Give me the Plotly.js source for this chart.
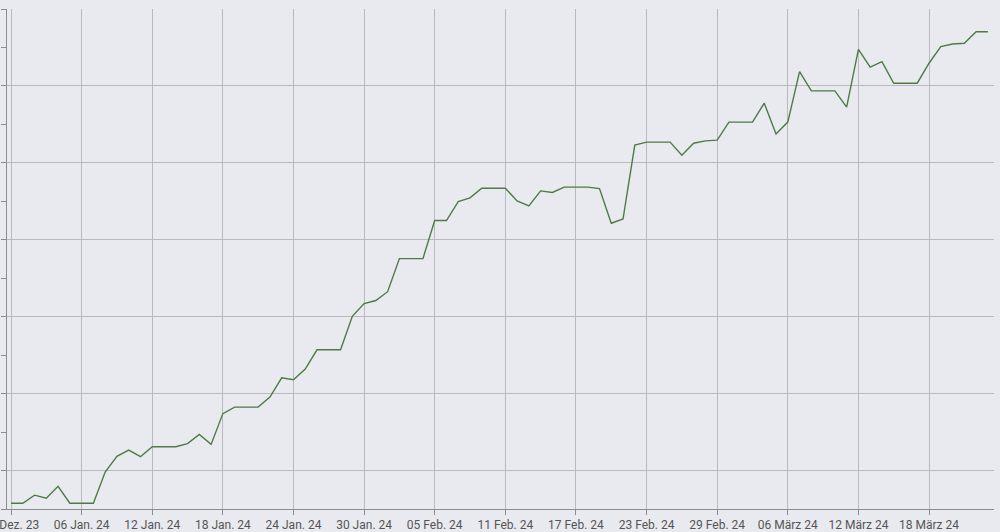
<!DOCTYPE html>
<html>
<head>
<meta charset="utf-8">
<script src="https://cdn.plot.ly/plotly-3.0.1.min.js"></script>
<style>
html,body{margin:0;padding:0;background:#e9eaef;}
#chart{width:1000px;height:532px;}
</style>
</head>
<body>
<div id="chart"></div>
<script>
const dates = [
"2023-12-31",
"2024-01-01","2024-01-02","2024-01-03","2024-01-04","2024-01-05","2024-01-06","2024-01-07","2024-01-08","2024-01-09","2024-01-10",
"2024-01-11","2024-01-12","2024-01-13","2024-01-14","2024-01-15","2024-01-16","2024-01-17","2024-01-18","2024-01-19","2024-01-20",
"2024-01-21","2024-01-22","2024-01-23","2024-01-24","2024-01-25","2024-01-26","2024-01-27","2024-01-28","2024-01-29","2024-01-30","2024-01-31",
"2024-02-01","2024-02-02","2024-02-03","2024-02-04","2024-02-05","2024-02-06","2024-02-07","2024-02-08","2024-02-09","2024-02-10",
"2024-02-11","2024-02-12","2024-02-13","2024-02-14","2024-02-15","2024-02-16","2024-02-17","2024-02-18","2024-02-19","2024-02-20",
"2024-02-21","2024-02-22","2024-02-23","2024-02-24","2024-02-25","2024-02-26","2024-02-27","2024-02-28","2024-02-29",
"2024-03-01","2024-03-02","2024-03-03","2024-03-04","2024-03-05","2024-03-06","2024-03-07","2024-03-08","2024-03-09","2024-03-10",
"2024-03-11","2024-03-12","2024-03-13","2024-03-14","2024-03-15","2024-03-16","2024-03-17","2024-03-18","2024-03-19","2024-03-20",
"2024-03-21","2024-03-22","2024-03-23"
];
const values = [
0.15,
0.15,0.36,0.28,0.59,0.15,0.15,0.15,0.96,1.37,1.53,
1.36,1.62,1.62,1.62,1.70,1.94,1.68,2.48,2.65,2.65,
2.65,2.91,3.41,3.36,3.64,4.14,4.14,4.14,5.01,5.34,5.42,
5.65,6.51,6.51,6.51,7.50,7.50,7.99,8.09,8.34,8.34,
8.34,8.01,7.88,8.27,8.23,8.37,8.37,8.37,8.33,7.43,
7.54,9.46,9.54,9.54,9.54,9.20,9.51,9.57,9.59,
10.06,10.06,10.06,10.55,9.75,10.06,11.37,10.87,10.87,10.87,
10.45,11.95,11.49,11.63,11.07,11.07,11.07,11.59,12.02,12.09,
12.11,12.41,12.41
];
const tickDates = ["2023-12-31","2024-01-06","2024-01-12","2024-01-18","2024-01-24","2024-01-30","2024-02-05","2024-02-11","2024-02-17","2024-02-23","2024-02-29","2024-03-06","2024-03-12","2024-03-18"];
const tickLabels = ["31 Dez. 23","06 Jan. 24","12 Jan. 24","18 Jan. 24","24 Jan. 24","30 Jan. 24","05 Feb. 24","11 Feb. 24","17 Feb. 24","23 Feb. 24","29 Feb. 24","06 März 24","12 März 24","18 März 24"];

const trace = {
  x: dates, y: values, type: 'scatter', mode: 'lines',
  line: {color: '#4e7b45', width: 1.4},
  hoverinfo: 'skip'
};
const layout = {
  width: 1000, height: 532,
  margin: {l: 7, r: 6, t: 9, b: 23},
  paper_bgcolor: '#e9eaef', plot_bgcolor: '#e9eaef',
  showlegend: false,
  xaxis: {
    type: 'date',
    range: ['2023-12-30 15:50', '2024-03-23 12:30'],
    tickmode: 'array', tickvals: tickDates, ticktext: tickLabels,
    ticklabeloverflow: 'allow',
    showgrid: true, gridcolor: '#b9bac0', gridwidth: 1,
    showline: true, linecolor: '#8c8c90', linewidth: 1,
    ticks: 'outside', ticklen: 5, tickcolor: '#8c8c90',
    tickfont: {family: 'Roboto, sans-serif', size: 12, color: '#555555'},
    zeroline: false, fixedrange: true
  },
  yaxis: {
    range: [0, 13],
    tick0: 1, dtick: 2,
    showticklabels: false,
    showgrid: true, gridcolor: '#b9bac0', gridwidth: 1,
    showline: true, linecolor: '#8c8c90', linewidth: 1,
    ticks: 'outside', ticklen: 5, tickcolor: '#8c8c90',
    minor: {tick0: 0, dtick: 1, ticks: 'outside', ticklen: 5, tickcolor: '#8c8c90', showgrid: false},
    zeroline: false, fixedrange: true
  }
};
Plotly.newPlot('chart', [trace], layout, {displayModeBar: false, staticPlot: true});
</script>
</body>
</html>
